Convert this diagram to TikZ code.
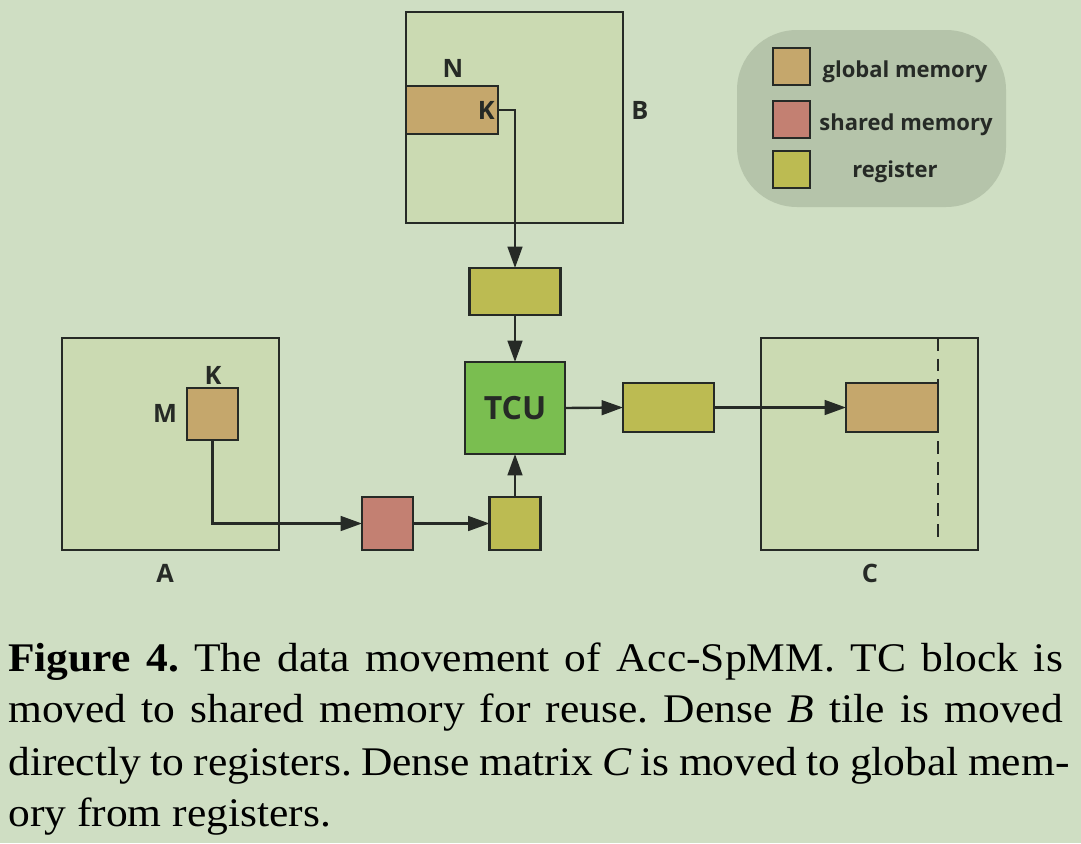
\documentclass[tikz,border=0pt]{standalone}
\usepackage{fontspec}
\setmainfont{Liberation Serif}[FakeStretch=1.07]
\newfontfamily\labfont{Open Sans}
\usetikzlibrary{arrows.meta}
\definecolor{bgc}{RGB}{207,222,195}
\definecolor{matc}{RGB}{203,218,178}
\definecolor{legc}{RGB}{181,196,170}
\definecolor{globc}{RGB}{197,167,108}
\definecolor{shc}{RGB}{195,128,114}
\definecolor{regc}{RGB}{188,187,82}
\definecolor{tcuc}{RGB}{122,190,80}
\definecolor{inkc}{RGB}{38,42,38}
\frenchspacing
\begin{document}
\begin{tikzpicture}[x=0.75pt,y=-0.75pt,
  sz/.style 2 args={minimum width=#1*0.75pt, minimum height=#2*0.75pt},
  blk/.style={draw=inkc, line width=2pt, inner sep=0pt, outer sep=0pt, rectangle},
  mat/.style={blk, fill=matc},
  glob/.style={blk, fill=globc},
  shm/.style={blk, fill=shc},
  reg/.style={blk, fill=regc},
  tcu/.style={blk, fill=tcuc, font=\labfont\bfseries\fontsize{24}{30}\selectfont, text=inkc},
  lab/.style={font=\labfont\bfseries\fontsize{19}{22}\selectfont, text=inkc, inner sep=0pt},
  leglab/.style={font=\labfont\bfseries\fontsize{16.5}{20}\selectfont, text=inkc, inner sep=0pt},
  conn/.style={draw=inkc, line width=1.8pt},
  arr/.style={conn, -{Triangle[length=16pt,width=11pt]}},
  capline/.style={anchor=base west, inner sep=0pt, font=\fontsize{30.5}{40}\selectfont}
]
\fill[bgc] (0,0) rectangle (1081,843);
\useasboundingbox (0,0) rectangle (1081,843);

% legend
\node[draw=none, fill=legc, rounded corners=45pt, sz={269}{177}, inner sep=0pt] (leg) at (871.5,118.5) {};
\node[glob, sz={37}{37}] (lg1) at (791.5,66.5) {};
\node[shm, sz={37}{37}] (lg2) at (791.5,119.5) {};
\node[reg, sz={37}{37}] (lg3) at (791.5,169.5) {};
\node[leglab] (lt1) at (905,71.5) {global memory};
\node[leglab] (lt2) at (906,124.5) {shared memory};
\node[leglab] (lt3) at (895,171.5) {register};

% matrix B
\node[mat, sz={217}{211}] (Bm) at (514.5,117.5) {};
\node[glob, sz={92}{48}] (Bt) at (452,110) {};
\node[lab] (Nl) at (453,68) {N};
\node[lab, anchor=east] (Kb) at (495,110) {K};
\node[lab] (Bl) at (640,110) {B};
\node[reg, sz={91}{47}] (Br) at (515,291.5) {};
\node[tcu, sz={100}{92}] (T) at (515,408) {TCU};

% matrix C
\node[mat, sz={217}{212}] (Cm) at (869.5,444) {};
\node[glob, sz={92}{49}] (Ct) at (892,407.5) {};
\coordinate (dtop) at (938,338);
\coordinate (dbot) at (938,543);
\draw[draw=inkc, line width=1.8pt, dash pattern=on 9.5pt off 6pt] (dtop) -- (dbot);
\node[lab] (Cl) at (870,573) {C};
\node[reg, sz={91}{49}] (Cr) at (668.5,407.5) {};

% matrix A
\node[mat, sz={217}{212}] (Am) at (170.5,444) {};
\node[glob, sz={51}{52}] (At) at (212.5,414) {};
\node[lab] (Ka) at (213,375) {K};
\node[lab] (Ml) at (165,413) {M};
\node[lab] (Al) at (165,573) {A};
\node[shm, sz={51}{53}] (S) at (387.5,523.5) {};
\node[reg, sz={51}{53}] (Ar) at (515,523.5) {};

% connectors
\draw[arr] (Bt.east) -| (Br.north);
\draw[arr] (Br.south) -- (T.north);
\draw[arr] (Ar.north) -- (T.south);
\draw[arr] (T.east) -- (Cr.west);
\draw[arr] (Cr.east) -- (Ct.west);
\draw[arr] (At.south) |- (S.west);
\draw[arr] (S.east) -- (Ar.west);

% caption
\node[capline] (c1) at (8,671) {\hbox to 791pt{\textbf{Figure 4.} The data movement of Acc-SpMM. TC block is}};
\node[capline] (c2) at (8,722) {\hbox to 791pt{moved to shared memory for reuse. Dense \textit{B} tile is moved}};
\node[capline] (c3) at (8,775) {\hbox to 796pt{directly to registers. Dense matrix \textit{C} is moved to global mem-}};
\node[capline] (c4) at (8,826) {ory from registers.};
\end{tikzpicture}
\end{document}
